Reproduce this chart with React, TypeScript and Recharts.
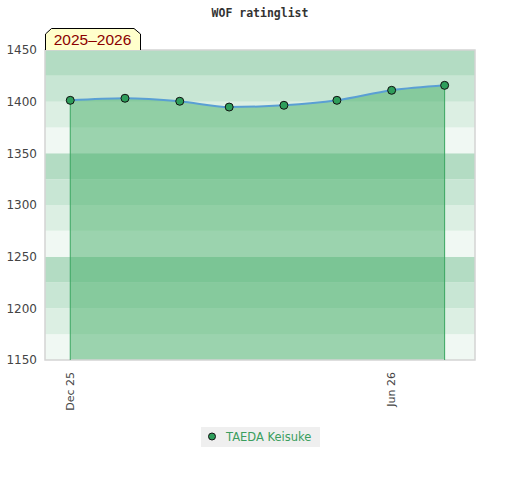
import {
  ComposedChart,
  Area,
  Line,
  XAxis,
  YAxis,
  ReferenceArea,
  ReferenceLine,
} from "recharts";

const months = [
  "2025-12-01",
  "2026-01-01",
  "2026-02-01",
  "2026-03-01",
  "2026-04-01",
  "2026-05-01",
  "2026-06-01",
  "2026-07-01",
];
const ratings = [1401.3, 1403.3, 1400.4, 1394.8, 1396.5, 1401.3, 1411, 1415.8];

const xTickDates = ["2025-12-01", "2026-06-01"];
const xTickLabels = ["Dec 25", "Jun 26"];

const yMajorTicks = [1150, 1200, 1250, 1300, 1350, 1400, 1450];
const yBandEdges = [1150, 1175, 1200, 1225, 1250, 1275, 1300, 1325, 1350, 1375, 1400, 1425, 1450];
const yGridLines = [1250, 1350];

const playerName = "TAEDA Keisuke";
const title = "WOF ratinglist";
const seasonLabel = "2025–2026";

const DAY = 86400000;
const toTime = (d: string) => Date.parse(d + "T00:00:00Z");

const data = months.map((m, i) => ({ t: toTime(m), rating: ratings[i] }));
const xDomain = [data[0].t - 14.3 * DAY, data[data.length - 1].t + 17.2 * DAY];
const yDomain = [yMajorTicks[0], yMajorTicks[yMajorTicks.length - 1]];
const yMinorTicks = Array.from(
  { length: (yDomain[1] - yDomain[0]) / 10 + 1 },
  (_, i) => yDomain[0] + i * 10
);

// four shades, repeating every 100 points, lightest at the bottom
const bandColors = ["#f0f8f3", "#dcefe3", "#c8e6d4", "#b3dcc3"];

const GREEN = "#2e9e5b";
const FONT = "'DejaVu Sans', sans-serif";

function XTick({ x, y, payload }: any) {
  const i = xTickDates.map(toTime).indexOf(payload.value);
  return (
    <text
      x={x}
      y={y + 12}
      dy="0.35em"
      transform={`rotate(-90 ${x} ${y + 12})`}
      textAnchor="end"
      fontSize={11}
      fontFamily={FONT}
      fill="#444"
    >
      {xTickLabels[i]}
    </text>
  );
}

function RightTick({ x, y, payload }: any) {
  const major = yMajorTicks.includes(payload.value);
  return (
    <g>
      <line x1={x - (major ? 5 : 3)} x2={x} y1={y} y2={y} stroke="#222" strokeWidth={1} />
      {major && (
        <text x={x + 9} y={y} dy="0.35em" fontSize={12} fontFamily={FONT} fill="#222">
          {payload.value}
        </text>
      )}
    </g>
  );
}

export default function App() {
  const first = data[0];
  const last = data[data.length - 1];
  return (
    <div style={{ position: "absolute", left: 0, top: 0, width: 520, height: 480, background: "#fff" }}>
      <ComposedChart
        width={520}
        height={480}
        data={data}
        margin={{ top: 50, right: 0, left: 0, bottom: 70 }}
      >
        <XAxis
          dataKey="t"
          type="number"
          scale="time"
          domain={xDomain}
          ticks={xTickDates.map(toTime)}
          tick={<XTick />}
          tickLine={false}
          axisLine={false}
          tickSize={0}
          tickMargin={0}
          height={50}
          allowDataOverflow
        />
        <YAxis
          yAxisId="left"
          orientation="left"
          type="number"
          domain={yDomain}
          ticks={yMajorTicks}
          width={45}
          tickLine={false}
          axisLine={false}
          tickSize={0}
          tickMargin={8}
          tick={{ fontSize: 12, fill: "#444", fontFamily: FONT }}
        />
        <YAxis
          yAxisId="right"
          orientation="right"
          type="number"
          domain={yDomain}
          ticks={yMinorTicks}
          interval={0}
          width={45}
          tickLine={false}
          axisLine={false}
          tickSize={0}
          tickMargin={0}
          tick={<RightTick />}
        />
        {yBandEdges.slice(0, -1).map((y1, i) => (
          <ReferenceArea
            key={y1}
            yAxisId="left"
            y1={y1}
            y2={yBandEdges[i + 1]}
            fill={bandColors[i % 4]}
            fillOpacity={1}
            strokeWidth={0}
          />
        ))}
        {yGridLines.map((y) => (
          <ReferenceArea
            key={"g" + y}
            yAxisId="left"
            y1={y}
            y2={y}
            fill="none"
            stroke="#d6d6d6"
            strokeWidth={1.5}
            ifOverflow="visible"
          />
        ))}
        <Area
          yAxisId="left"
          type="monotone"
          dataKey="rating"
          stroke="none"
          fill="rgb(63,171,99)"
          fillOpacity={0.48}
          isAnimationActive={false}
          baseValue={yDomain[0]}
        />
        <ReferenceLine
          yAxisId="left"
          segment={[{ x: first.t, y: yDomain[0] }, { x: first.t, y: first.rating }]}
          stroke="#3aa560"
          strokeWidth={1}
        />
        <ReferenceLine
          yAxisId="left"
          segment={[{ x: last.t, y: yDomain[0] }, { x: last.t, y: last.rating }]}
          stroke="#3aa560"
          strokeWidth={1}
        />
        <ReferenceArea
          yAxisId="left"
          y1={yDomain[0]}
          y2={yDomain[1]}
          fill="none"
          stroke="#d4d4d4"
          strokeWidth={1.5}
        />
        <Line
          yAxisId="left"
          type="monotone"
          dataKey="rating"
          stroke="#5a9fd4"
          strokeWidth={2}
          dot={{ r: 4, fill: GREEN, stroke: "#111", strokeWidth: 1 }}
          isAnimationActive={false}
        />
      </ComposedChart>

      <svg width={520} height={52} style={{ position: "absolute", left: 0, top: 0 }}>
        <text
          x={260}
          y={13}
          dy="0.35em"
          textAnchor="middle"
          fontSize={11.5}
          fontWeight="bold"
          fontFamily="'DejaVu Sans Mono', monospace"
          fill="#333"
        >
          {title}
        </text>
        <path
          d="M45.5 50 L45.5 34 L51.5 28.5 L134 28.5 L140.5 34 L140.5 50"
          fill="#ffffcc"
          stroke="#000"
          strokeWidth={1}
        />
        <text
          x={92.5}
          y={40}
          dy="0.35em"
          textAnchor="middle"
          fontSize={15.5}
          fontFamily="'Liberation Sans', sans-serif"
          fill="#8b0000"
        >
          {seasonLabel}
        </text>
      </svg>

      <div
        style={{
          position: "absolute",
          left: 201,
          top: 427,
          width: 119,
          height: 20,
          background: "#efefef",
          display: "flex",
          alignItems: "center",
          fontFamily: FONT,
          fontSize: 11.5,
          color: "#3a9e5e",
        }}
      >
        <svg width={24} height={20}>
          <circle cx={11} cy={9.5} r={3.5} fill={GREEN} stroke="#111" strokeWidth={1} />
        </svg>
        <span style={{ marginLeft: 1 }}>{playerName}</span>
      </div>
    </div>
  );
}
